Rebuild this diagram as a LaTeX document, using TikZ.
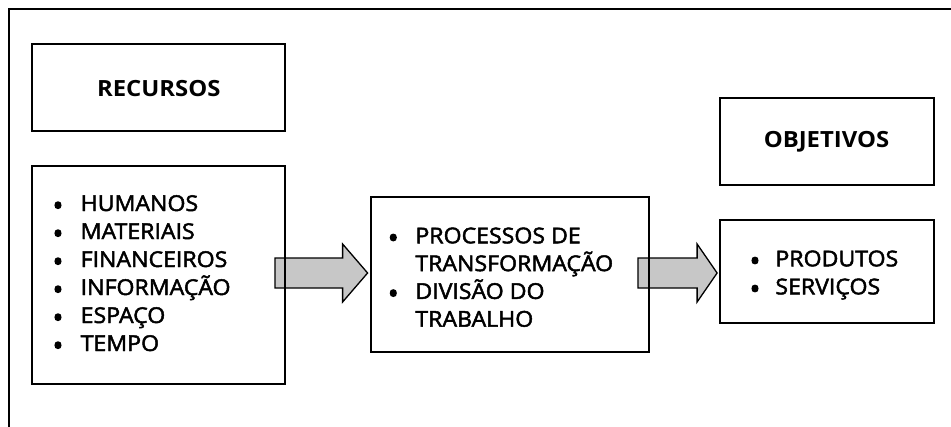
\documentclass[tikz,border=0pt]{standalone}
\usepackage{fontspec}
\setmainfont{Open Sans}
\newfontfamily\listfont[FakeStretch=1.06,FakeBold=2.2]{Open Sans}
\newfontfamily\bulfont[FakeBold=4.5]{Open Sans}
\newfontfamily\titlefont[FakeStretch=1.07]{Open Sans}
\usetikzlibrary{calc,backgrounds}
\newcommand\blockarr[3]{%
  \draw[blockarrow] ($(#1)+(0,-15)$) -- ($(#2)+(-#3,-15)$) -- ($(#2)+(-#3,-29)$) -- (#2)
    -- ($(#2)+(-#3,29)$) -- ($(#2)+(-#3,15)$) -- ($(#1)+(0,15)$) -- cycle;}
\begin{document}
\begin{tikzpicture}[x=1pt,y=-1pt,
  box/.style={draw=black,line width=1.8pt,inner sep=0pt,rectangle},
  item/.style={inner sep=0pt,anchor=base west,font=\listfont\fontsize{21.8}{26}\selectfont},
  bul/.style={inner sep=0pt,anchor=center,font=\bulfont\fontsize{27}{27}\selectfont},
  ttl/.style={inner sep=0pt,anchor=base,font=\titlefont\bfseries\fontsize{22.3}{26}\selectfont},
  blockarrow/.style={draw=black,line width=1.3pt,fill=black!22,line join=miter}]
\useasboundingbox (0,0) rectangle (951,426);
\draw[line width=1.8pt] (9,428) -- (9,9) -- (953,9);
% boxes
\node[box,minimum width=253pt,minimum height=87pt] (rec) at (158.5,87.5) {};
\node[box,minimum width=253pt,minimum height=218pt] (res) at (158.5,275) {};
\node[box,minimum width=278pt,minimum height=155pt] (proc) at (510,274.5) {};
\node[box,minimum width=214pt,minimum height=87pt] (obj) at (827,141.5) {};
\node[box,minimum width=214pt,minimum height=103pt] (prod) at (827,271.5) {};
% titles
\node[ttl] (rect) at (158.8,96.7) {RECURSOS};
\node[ttl] (objt) at (826.5,147.7) {OBJETIVOS};
% resources list
\foreach \t [count=\i] in {HUMANOS,MATERIAIS,FINANCEIROS,INFORMAÇÃO,ESPAÇO,TEMPO} {
  \node[item] (resi\i) at (80.5,{211+28*(\i-1)}) {\t};
  \node[bul] (resb\i) at (58,{208.5+28*(\i-1)}) {\textbullet};
}
% process list
\node[bul] (procb1) at (393.3,240.8) {\textbullet};
\node[item] (proci1) at (415.2,243.3) {PROCESSOS DE};
\node[item] (proci2) at (415.2,271.1) {TRANSFORMAÇÃO};
\node[bul] (procb3) at (393.3,296.4) {\textbullet};
\node[item] (proci3) at (415.2,298.9) {DIVISÃO DO};
\node[item] (proci4) at (415.2,326.7) {TRABALHO};
% products list
\node[bul] (prodb1) at (755,263.8) {\textbullet};
\node[item] (prodi1) at (775.2,266.3) {PRODUTOS};
\node[bul] (prodb2) at (755,291.8) {\textbullet};
\node[item] (prodi2) at (775.2,294.3) {SERVIÇOS};
% arrows
\coordinate (a1tail) at ($(res.east |- 0,273)+(-11,0)$);
\coordinate (a1tip) at ($(proc.west |- 0,273)+(-2.5,0)$);
\coordinate (a2tail) at ($(proc.east |- 0,273)+(-12,0)$);
\coordinate (a2tip) at ($(prod.west |- 0,273)+(-2,0)$);
\begin{scope}[on background layer]
\blockarr{a1tail}{a1tip}{25}
\blockarr{a2tail}{a2tip}{20}
\end{scope}
\end{tikzpicture}
\end{document}
